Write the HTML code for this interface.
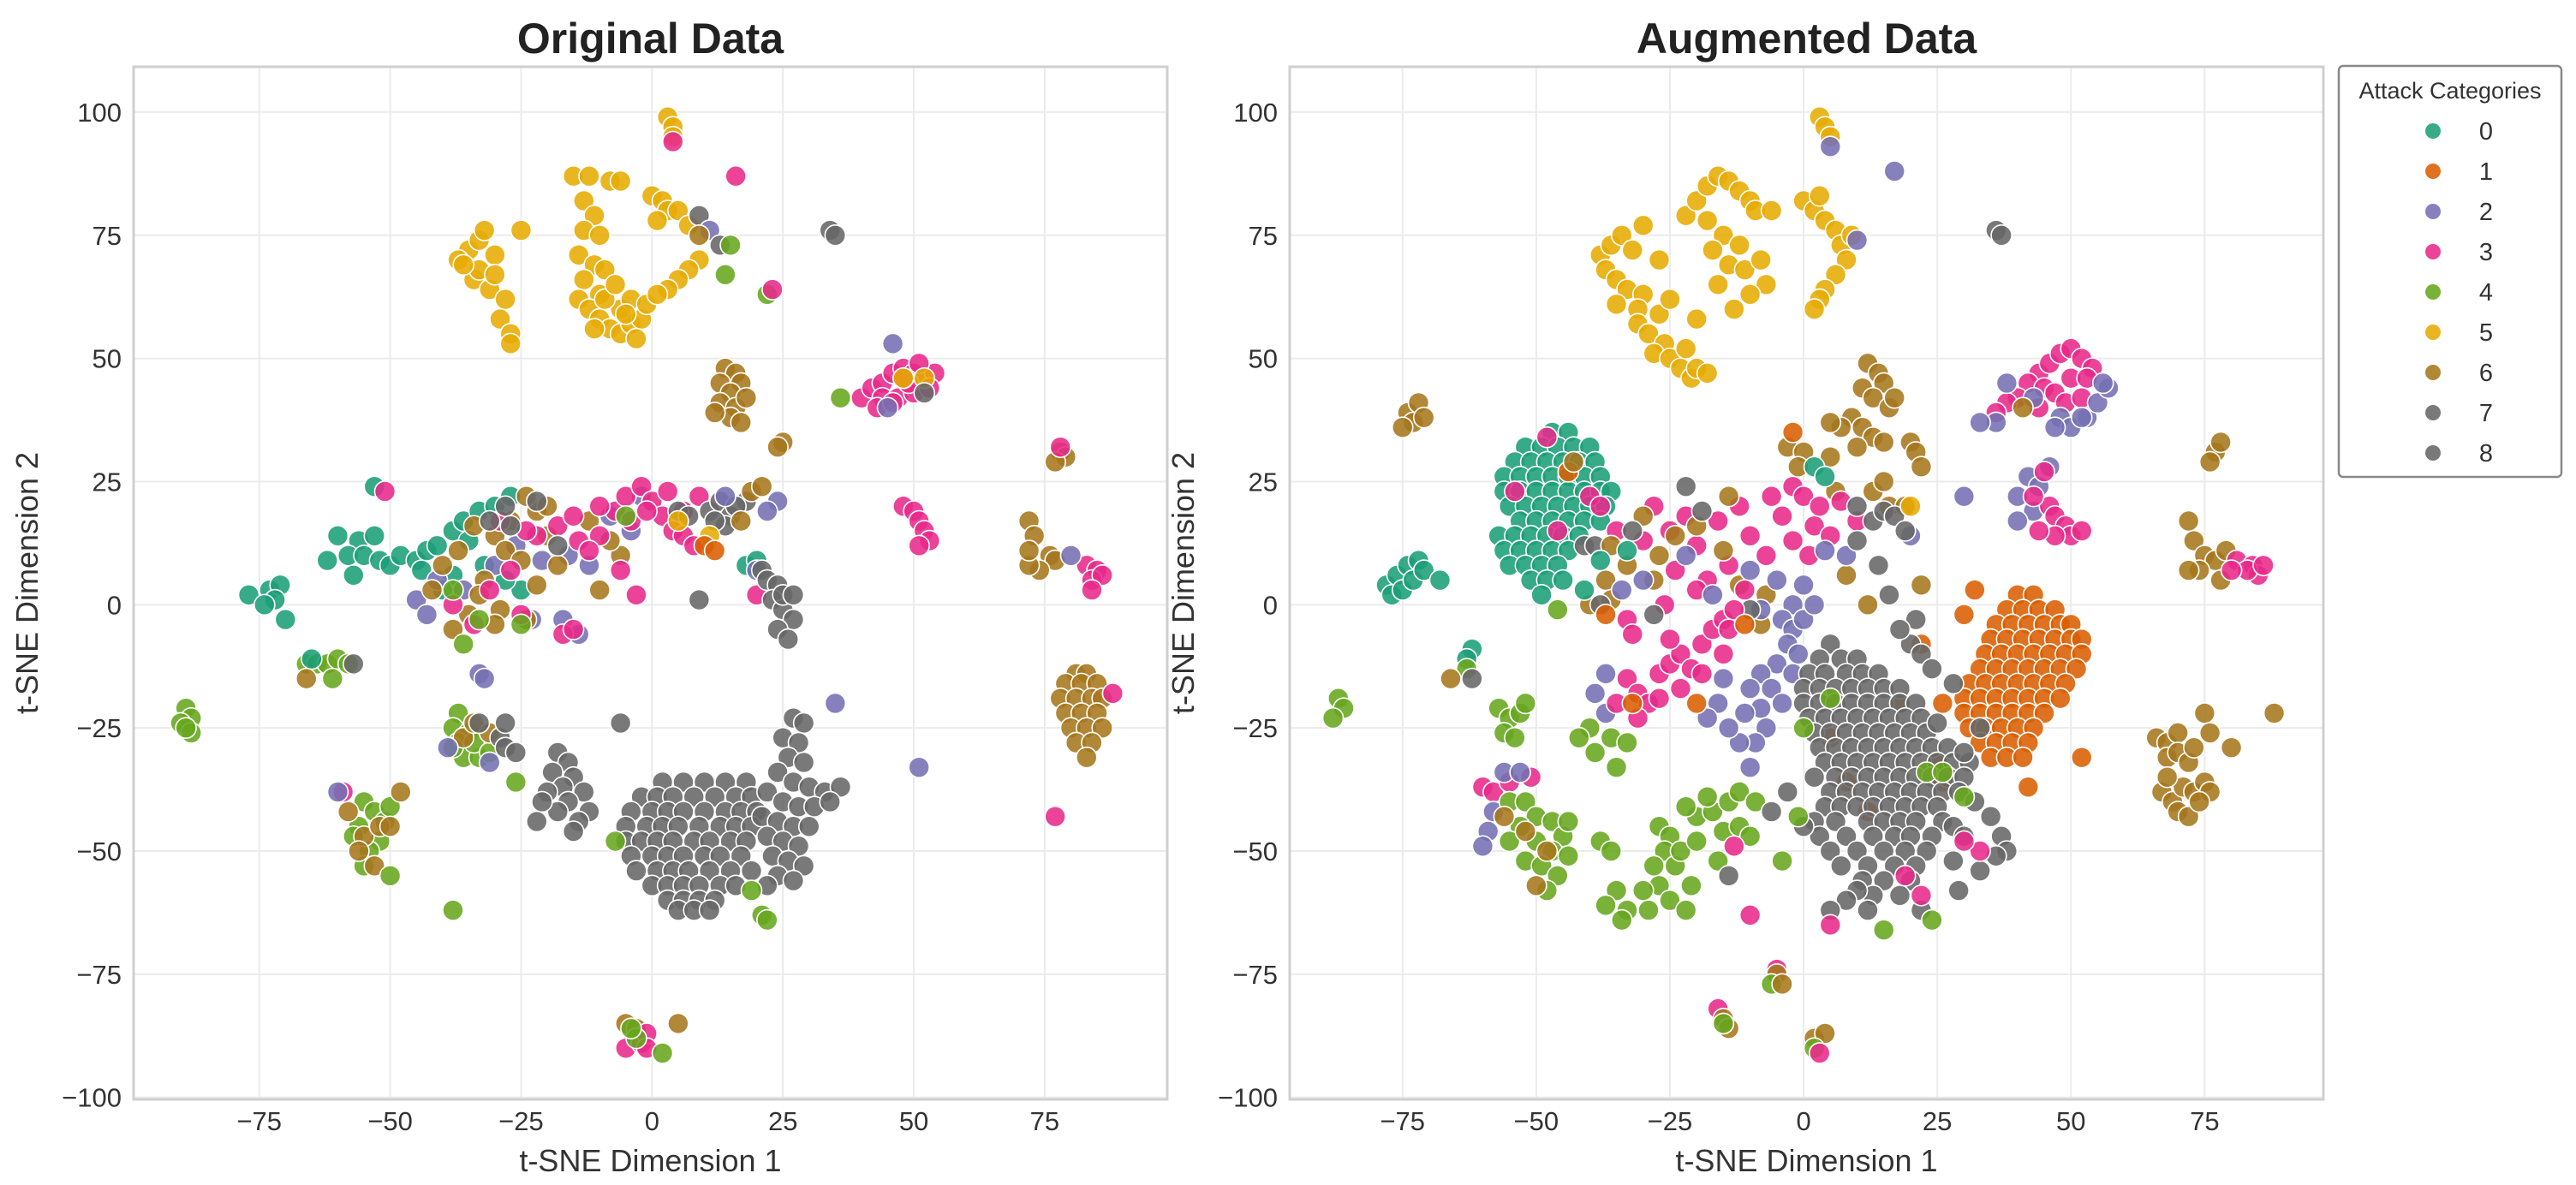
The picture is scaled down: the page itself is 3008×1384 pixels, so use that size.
<!DOCTYPE html>
<html><head><meta charset="utf-8"><title>t-SNE Original vs Augmented</title>
<style>
html,body{margin:0;padding:0;background:#fff;}
svg{display:block;font-family:"Liberation Sans",Arial,sans-serif;}
</style></head>
<body>
<svg id="fig" xmlns="http://www.w3.org/2000/svg" width="3008" height="1384" viewBox="0 0 3008 1384">
<rect x="0" y="0" width="3008" height="1384" fill="#fff"/>
</svg>
<script>
const categories = ['0','1','2','3','4','5','6','7','8'];
const palette = ['#1b9e77','#d95f02','#7570b3','#e7298a','#66a61e','#e6ab02','#a6761d','#666666','#666666'];
const xTicks = [-75,-50,-25,0,25,50,75];
const yTicks = [-100,-75,-50,-25,0,25,50,75,100];

const leftPoints = [
[-35,72,5],[-37,70,5],[-33,74,5],[-30,71,5],[-34,66,5],[-31,64,5],[-28,62,5],[-29,58,5],[-27,55,5],[-27,53,5],[-33,68,5],[-36,69,5],[-32,76,5],[-25,76,5],[-30,67,5],
[-15,87,5],[-12,87,5],[-8,86,5],[-6,86,5],[-13,82,5],[-11,79,5],[-13,76,5],[-10,75,5],[-14,71,5],[-11,69,5],[-13,66,5],[-9,68,5],[-10,63,5],
[-14,62,5],[-12,60,5],[-10,58,5],[-8,56,5],[-6,55,5],[-4,57,5],[-2,58,5],[-6,60,5],[-9,62,5],[-4,62,5],[-7,65,5],[-3,54,5],[-11,56,5],[-1,61,5],[-5,59,5],
[0,83,5],[2,82,5],[3,80,5],[1,78,5],[5,80,5],[7,77,5],[9,70,5],[7,68,5],[5,66,5],[3,64,5],[1,63,5],[3,99,5],[4,97,5],[4,95,5],[4,94,3],
[16,87,3],[9,79,7],[11,76,2],[9,75,6],[13,73,7],[15,73,4],[14,67,4],[22,63,4],[23,64,3],[34,76,7],[35,75,7],
[14,48,6],[16,47,6],[17,45,6],[13,45,6],[15,43,6],[13,41,6],[16,40,6],[18,42,6],[15,38,6],[17,37,6],[12,39,6],
[40,42,3],[42,44,3],[44,45,3],[46,47,3],[48,48,3],[50,47,3],[52,46,3],[54,47,3],[44,42,3],[47,42,3],[50,43,3],[49,45,3],[53,44,3],[43,40,3],[46,41,3],[51,49,3],[48,46,3],
[46,53,2],[48,46,5],[52,46,5],[36,42,4],[52,43,7],[45,40,2],
[25,33,6],[24,32,6],[78,31,6],[79,30,6],[77,29,6],[78,32,3],
[48,20,3],[50,19,3],[51,17,3],[52,15,3],[53,13,3],[51,12,3],
[72,17,6],[73,14,6],[76,10,6],[77,9,6],[74,7,6],[72,8,6],[72,11,6],
[83,8,3],[85,7,3],[84,5,3],[86,6,3],[84,3,3],[80,10,2],
[81,-14,6],[83,-14,6],[79,-16,6],[82,-16,6],[85,-16,6],[78,-19,6],[81,-19,6],[84,-19,6],[86,-19,6],[79,-22,6],[82,-22,6],[85,-22,6],[80,-25,6],[83,-25,6],[86,-25,6],[81,-28,6],[84,-28,6],[83,-31,6],[88,-18,3],
[77,-43,3],[51,-33,2],
[-60,14,0],[-56,13,0],[-53,14,0],[-58,10,0],[-55,10,0],[-52,9,0],[-57,6,0],[-62,9,0],[-50,8,0],[-48,10,0],
[-77,2,0],[-73,3,0],[-71,4,0],[-72,1,0],[-74,0,0],[-70,-3,0],
[-66,-12,4],[-64,-12,4],[-62,-12,4],[-60,-11,4],[-58,-12,4],[-65,-11,0],[-66,-15,6],[-61,-15,4],[-57,-12,7],
[-89,-21,4],[-88,-23,4],[-90,-24,4],[-88,-26,4],[-89,-25,4],
[-53,24,0],[-51,23,3],
[-45,9,0],[-43,11,0],[-41,12,0],[-38,15,0],[-36,17,0],[-33,19,0],[-35,13,0],[-30,20,0],[-27,22,0],[-44,7,0],[-38,6,0],[-32,8,0],[-40,3,0],[-25,3,0],[-28,5,0],
[-45,1,2],[-43,-2,2],[-41,5,2],[-36,3,2],[-30,8,2],[-26,12,2],[-21,9,2],[-16,10,2],[-12,8,2],[-8,18,2],[-4,15,2],[-2,22,2],[-23,-3,2],[-17,-3,2],[-14,-6,2],[-33,-14,2],[-32,-15,2],
[-42,3,6],[-40,8,6],[-37,11,6],[-34,16,6],[-30,14,6],[-28,11,6],[-25,9,6],[-32,5,6],[-35,-2,6],[-38,-5,6],[-29,-1,6],[-33,2,6],[-27,17,6],[-22,19,6],[-24,22,6],[-20,14,6],[-18,8,6],[-22,4,6],[-30,-4,6],[-24,-3,6],[-12,17,6],[-6,10,6],[-20,20,6],[-10,3,6],[-8,13,6],
[-38,0,3],[-34,-4,3],[-31,3,3],[-27,7,3],[-22,14,3],[-18,16,3],[-14,13,3],[-10,14,3],[-7,19,3],[-5,22,3],[-2,24,3],[0,21,3],[2,18,3],[4,15,3],[6,14,3],[8,12,3],[-4,17,3],[-10,20,3],[-15,18,3],[-12,11,3],[-1,19,3],[3,23,3],[-6,7,3],[-17,-6,3],[-15,-5,3],[-29,17,3],[-24,15,3],[-3,2,3],[6,19,3],[9,22,3],[-25,-2,3],
[-28,20,7],[-22,21,7],[-31,17,7],[-27,16,7],[5,19,7],[7,18,7],[11,19,7],[13,21,7],[15,18,7],[14,16,7],[12,17,7],[18,21,7],[16,20,7],[-18,12,7],
[-36,-8,4],[-38,3,4],[-25,-4,4],[-33,-3,4],[-5,18,4],
[11,14,5],[5,17,5],[10,12,1],[12,11,1],[19,23,6],[21,24,6],[17,17,6],[24,21,2],[22,19,2],[14,22,2],
[18,8,0],[20,9,0],[20,7,2],[20,2,3],
[21,7,7],[22,5,7],[24,4,7],[23,1,7],[25,-1,7],[27,-3,7],[24,-5,7],[26,-7,7],[25,2,7],[27,2,7],[9,1,7],
[-18,-30,7],[-16,-32,7],[-19,-34,7],[-15,-35,7],[-17,-37,7],[-13,-38,7],[-20,-38,7],[-16,-40,7],[-12,-42,7],[-18,-42,7],[-14,-44,7],[-21,-40,7],[-22,-44,7],[-15,-46,7],[-6,-24,7],
[-37,-22,4],[-38,-25,4],[-35,-26,4],[-37,-28,4],[-36,-31,4],[-33,-31,4],[-34,-28,4],[-31,-30,4],[-38,-29,4],[-36,-27,6],[-34,-24,6],[-31,-26,6],[-33,-24,7],[-29,-27,7],[-28,-29,7],[-26,-30,7],[-28,-24,7],[-39,-29,2],[-31,-32,2],[-26,-36,4],
[-55,-40,4],[-53,-42,4],[-51,-44,4],[-56,-45,4],[-52,-48,4],[-54,-50,4],[-57,-47,4],[-50,-41,4],[-55,-53,4],[-58,-42,6],[-55,-47,6],[-52,-45,6],[-50,-45,6],[-56,-50,6],[-53,-53,6],[-48,-38,6],[-59,-38,3],[-60,-38,2],[-50,-55,4],[-38,-62,4],
[-5,-85,6],[-3,-86,6],[5,-85,6],[-5,-90,3],[-2,-89,3],[-1,-87,3],[-1,-90,3],[-3,-88,4],[2,-91,4],[-4,-86,4],
[2,-36,7],[6,-36,7],[10,-36,7],[14,-36,7],[18,-36,7],
[-2,-39,7],[1,-39,7],[4,-39,7],[8,-39,7],[12,-39,7],[16,-39,7],[19,-39,7],
[-4,-42,7],[0,-42,7],[3,-42,7],[6,-42,7],[10,-42,7],[14,-42,7],[17,-42,7],[20,-42,7],
[-5,-45,7],[-1,-45,7],[2,-45,7],[5,-45,7],[9,-45,7],[13,-45,7],[16,-45,7],[19,-45,7],
[-5,-48,7],[-2,-48,7],[1,-48,7],[4,-48,7],[8,-48,7],[11,-48,7],[15,-48,7],[18,-48,7],
[-4,-51,7],[0,-51,7],[3,-51,7],[6,-51,7],[10,-51,7],[13,-51,7],[17,-51,7],
[-3,-54,7],[1,-54,7],[4,-54,7],[7,-54,7],[11,-54,7],[15,-54,7],[19,-54,7],
[0,-57,7],[3,-57,7],[6,-57,7],[9,-57,7],[13,-57,7],[16,-57,7],
[3,-60,7],[6,-60,7],[9,-60,7],[12,-60,7],[5,-62,7],[8,-62,7],[11,-62,7],
[27,-23,7],[29,-24,7],[25,-27,7],[28,-28,7],[26,-31,7],[29,-32,7],[24,-34,7],[27,-36,7],[30,-37,7],[33,-38,7],[36,-37,7],[22,-38,7],[25,-40,7],[28,-41,7],[31,-41,7],[34,-40,7],[21,-43,7],[24,-44,7],[27,-45,7],[30,-45,7],[22,-47,7],[25,-48,7],[28,-49,7],[23,-51,7],[26,-52,7],[29,-53,7],[24,-55,7],[27,-56,7],[22,-57,7],
[-7,-48,4],[21,-63,4],[22,-64,4],[19,-58,4],[35,-20,2]
];

const rightPoints = [
[-38,71,5],[-36,73,5],[-34,75,5],[-32,72,5],[-37,68,5],[-35,66,5],[-33,64,5],[-30,63,5],[-31,60,5],[-31,57,5],[-29,55,5],[-26,53,5],[-28,51,5],[-25,50,5],[-23,48,5],[-21,46,5],[-20,48,5],[-18,47,5],[-22,52,5],[-27,59,5],[-25,62,5],[-20,58,5],[-35,61,5],[-27,70,5],[-30,77,5],
[-22,79,5],[-20,82,5],[-18,85,5],[-16,87,5],[-14,86,5],[-12,84,5],[-10,82,5],[-18,78,5],[-15,75,5],[-12,73,5],[-14,69,5],[-11,68,5],[-8,70,5],[-7,65,5],[-10,63,5],[-13,60,5],[-16,65,5],[-17,72,5],[-9,80,5],[-6,80,5],
[0,82,5],[2,80,5],[4,78,5],[6,76,5],[7,73,5],[8,70,5],[6,67,5],[4,64,5],[3,62,5],[2,60,5],[9,75,5],[3,83,5],
[3,99,5],[4,97,5],[5,95,5],[5,93,2],[17,88,2],[10,74,2],[36,76,7],[37,75,7],
[12,49,6],[14,47,6],[15,45,6],[11,44,6],[13,42,6],[16,40,6],[9,38,6],[7,36,6],[5,37,6],[11,36,6],[13,34,6],[15,33,6],[10,32,6],[17,42,6],[20,33,6],[21,31,6],[22,28,6],[5,30,6],[-3,32,6],[6,23,6],[-2,35,1],
[44,47,3],[46,49,3],[48,51,3],[50,52,3],[52,50,3],[54,48,3],[42,45,3],[45,44,3],[50,46,3],[53,46,3],[40,42,3],[38,41,3],[47,43,3],[49,41,3],[52,42,3],[44,40,3],[36,39,3],
[36,37,2],[38,45,2],[48,38,2],[50,36,2],[53,38,2],[55,41,2],[57,44,2],[52,38,2],[43,42,2],[47,36,2],[33,37,2],[56,45,2],[41,40,6],
[42,26,2],[44,24,2],[40,22,2],[43,19,2],[40,17,2],[46,28,2],[45,27,3],[46,20,3],[47,18,3],[49,16,3],[50,14,3],[52,15,3],[47,14,3],[44,15,3],[43,22,3],
[77,31,6],[78,33,6],[76,29,6],[72,17,6],[73,13,6],[75,10,6],[77,9,6],[79,11,6],[74,7,6],[72,7,6],[78,5,6],
[81,9,3],[84,8,3],[85,6,3],[83,7,3],[80,7,3],[86,8,3],
[66,-27,6],[68,-28,6],[70,-26,6],[68,-31,6],[70,-30,6],[72,-32,6],[75,-22,6],[76,-26,6],[73,-29,6],[80,-29,6],[88,-22,6],[67,-38,6],[69,-40,6],[71,-37,6],[73,-38,6],[75,-36,6],[70,-42,6],[72,-43,6],[68,-35,6],[76,-38,6],[74,-40,6],
[-74,39,6],[-72,41,6],[-73,37,6],[-71,38,6],[-75,36,6],
[-47,35,0],[-44,35,0],
[-52,32,0],[-49,32,0],[-46,32,0],[-43,32,0],[-40,32,0],
[-54,29,0],[-51,29,0],[-48,29,0],[-45,29,0],[-42,29,0],[-39,29,0],
[-56,26,0],[-53,26,0],[-50,26,0],[-47,26,0],[-44,26,0],[-41,26,0],[-38,26,0],
[-56,23,0],[-53,23,0],[-50,23,0],[-47,23,0],[-44,23,0],[-41,23,0],[-38,23,0],[-36,23,0],
[-55,20,0],[-52,20,0],[-49,20,0],[-46,20,0],[-43,20,0],[-40,20,0],[-37,20,0],
[-53,17,0],[-50,17,0],[-47,17,0],[-44,17,0],[-41,17,0],[-38,17,0],
[-57,14,0],[-54,14,0],[-51,14,0],[-48,14,0],[-45,14,0],[-42,14,0],
[-56,11,0],[-53,11,0],[-50,11,0],[-47,11,0],[-44,11,0],
[-55,8,0],[-52,8,0],[-49,8,0],[-46,8,0],[-51,5,0],[-48,5,0],[-45,5,0],[-49,2,0],
[-48,34,3],[-54,23,3],[-40,22,3],[-46,15,3],[-44,27,1],[-43,29,6],[-41,12,7],[-39,12,7],
[-78,4,0],[-76,6,0],[-74,8,0],[-72,9,0],[-77,2,0],[-75,3,0],[-73,5,0],[-71,7,0],[-68,5,0],
[-62,-9,0],[-63,-11,0],[-63,-13,4],[-62,-15,7],[-66,-15,6],
[-87,-19,4],[-86,-21,4],[-88,-23,4],
[-57,-21,4],[-55,-23,4],[-53,-22,4],[-56,-26,4],[-54,-27,4],[-52,-20,4],
[-60,-37,3],[-58,-38,3],[-55,-36,3],[-51,-35,3],[-56,-34,2],[-53,-34,2],[-58,-42,2],[-59,-46,2],[-60,-49,2],
[-55,-40,4],[-52,-40,4],[-50,-43,4],[-47,-44,4],[-45,-47,4],[-53,-45,4],[-50,-48,4],[-47,-50,4],[-44,-51,4],[-55,-48,4],[-52,-52,4],[-49,-53,4],[-46,-55,4],[-48,-58,4],[-44,-44,4],
[-56,-43,6],[-52,-46,6],[-48,-50,6],[-50,-57,6],
[-38,-48,4],[-36,-50,4],[-35,-58,4],[-37,-61,4],[-33,-62,4],[-34,-64,4],[-27,-45,4],[-25,-47,4],[-26,-50,4],[-28,-53,4],[-24,-53,4],[-27,-57,4],[-30,-58,4],[-25,-60,4],[-22,-62,4],[-29,-62,4],[-21,-57,4],[-23,-50,4],[-20,-43,4],[-17,-42,4],[-14,-40,4],[-18,-39,4],[-22,-41,4],[-15,-46,4],[-12,-45,4],[-20,-48,4],[-16,-52,4],[-10,-47,4],[-12,-38,4],[-9,-40,4],
[-40,-25,4],[-36,-27,4],[-33,-28,4],[-39,-30,4],[-35,-33,4],[-42,-27,4],
[-38,20,3],[-35,15,3],[-30,13,3],[-28,20,3],[-25,15,3],[-22,18,3],[-20,12,3],[-16,17,3],[-12,20,3],[-10,14,3],[-6,22,3],[-4,18,3],[-2,24,3],[0,22,3],[2,16,3],[3,20,3],[-7,10,3],[-14,8,3],[-18,5,3],[-24,7,3],[-2,13,3],[5,14,3],[1,10,3],[7,21,3],[10,17,3],[-26,0,3],[-33,-3,3],[-32,-6,3],[-20,3,3],
[-36,12,6],[-33,8,6],[-37,5,6],[-40,0,6],[-30,18,6],[-27,10,6],[-24,14,6],[-20,16,6],[-15,11,6],[-12,4,6],[-7,2,6],[0,31,6],[-1,28,6],[-14,22,6],[-36,1,6],[-28,5,6],[-8,-4,6],[13,23,6],[15,25,6],[16,20,6],[19,20,6],[12,0,6],[22,4,6],[8,6,6],
[-34,3,2],[-30,5,2],[-22,10,2],[-17,2,2],[-10,7,2],[-5,5,2],[4,11,2],[8,10,2],[-2,0,2],[-8,-1,2],[30,22,2],[20,14,2],[-37,-14,2],[-39,-18,2],[-37,-22,2],
[-28,-2,7],[-32,15,7],[-19,19,7],[-10,-1,7],[13,17,7],[15,19,7],[17,18,7],[19,15,7],[10,20,7],[-22,24,7],[-38,0,7],
[-33,11,0],[-38,9,0],[-41,3,0],[2,28,0],[4,26,0],[-46,-1,4],[20,20,5],
[-33,-15,3],[-31,-18,3],[-29,-20,3],[-27,-14,3],[-25,-12,3],[-23,-10,3],[-21,-13,3],[-19,-8,3],[-17,-5,3],[-15,-3,3],[-13,-1,3],[-11,3,3],[-15,-10,3],[-19,-14,3],[-23,-17,3],[-27,-19,3],[-14,-5,3],[-25,-7,3],[-31,-23,3],[-35,-20,3],
[-4,-3,2],[-2,-5,2],[0,-3,2],[-3,-8,2],[-1,-10,2],[-5,-12,2],[-2,-14,2],[-8,-14,2],[-6,-17,2],[-10,-17,2],[-8,-21,2],[-11,-22,2],[-7,-25,2],[-9,-28,2],[-12,-28,2],[-14,-25,2],[-4,-20,2],[2,0,2],[0,4,2],[-10,-33,2],[-16,-20,2],[-15,-15,2],[-18,-23,2],
[40,2,1],[43,2,1],
[38,-1,1],[41,-1,1],[44,-1,1],[47,-1,1],
[36,-4,1],[39,-4,1],[42,-4,1],[45,-4,1],[48,-4,1],[50,-4,1],
[35,-7,1],[38,-7,1],[41,-7,1],[44,-7,1],[47,-7,1],[50,-7,1],[52,-7,1],
[34,-10,1],[37,-10,1],[40,-10,1],[43,-10,1],[46,-10,1],[49,-10,1],[52,-10,1],
[33,-13,1],[36,-13,1],[39,-13,1],[42,-13,1],[45,-13,1],[48,-13,1],[51,-13,1],
[31,-16,1],[34,-16,1],[37,-16,1],[40,-16,1],[43,-16,1],[46,-16,1],[49,-16,1],
[30,-19,1],[33,-19,1],[36,-19,1],[39,-19,1],[42,-19,1],[45,-19,1],[48,-19,1],
[30,-22,1],[33,-22,1],[36,-22,1],[39,-22,1],[42,-22,1],[45,-22,1],
[31,-25,1],[34,-25,1],[37,-25,1],[40,-25,1],[43,-25,1],
[33,-28,1],[36,-28,1],[39,-28,1],[42,-28,1],[35,-31,1],[38,-31,1],[41,-31,1],
[25,-32,1],[52,-31,1],[30,-2,1],[32,3,1],[42,-37,1],[26,-36,1],[22,-8,1],[18,-20,1],[8,-36,1],[5,-27,1],[26,-20,1],[-37,-2,1],[-32,-20,1],[-20,-20,1],[-11,-4,1],[12,-42,1],
[5,-8,7],[3,-11,7],[7,-11,7],[10,-11,7],
[1,-14,7],[4,-14,7],[8,-14,7],[11,-14,7],[14,-14,7],
[0,-17,7],[3,-17,7],[6,-17,7],[9,-17,7],[12,-17,7],[15,-17,7],[18,-17,7],
[0,-20,7],[3,-20,7],[6,-20,7],[9,-20,7],[12,-20,7],[15,-20,7],[18,-20,7],[21,-20,7],
[1,-23,7],[4,-23,7],[7,-23,7],[10,-23,7],[13,-23,7],[16,-23,7],[19,-23,7],[22,-23,7],
[2,-26,7],[5,-26,7],[8,-26,7],[11,-26,7],[14,-26,7],[17,-26,7],[20,-26,7],[23,-26,7],
[3,-29,7],[6,-29,7],[9,-29,7],[12,-29,7],[15,-29,7],[18,-29,7],[21,-29,7],[24,-29,7],[27,-29,7],
[4,-32,7],[7,-32,7],[10,-32,7],[13,-32,7],[16,-32,7],[19,-32,7],[22,-32,7],[25,-32,7],[28,-32,7],[31,-32,7],
[2,-35,7],[6,-35,7],[9,-35,7],[12,-35,7],[15,-35,7],[18,-35,7],[21,-35,7],[24,-35,7],[27,-35,7],[30,-35,7],
[5,-38,7],[8,-38,7],[11,-38,7],[14,-38,7],[17,-38,7],[20,-38,7],[23,-38,7],[26,-38,7],[29,-38,7],
[4,-41,7],[7,-41,7],[10,-41,7],[13,-41,7],[16,-41,7],[19,-41,7],[22,-41,7],[25,-41,7],
[2,-44,7],[6,-44,7],[12,-44,7],[15,-44,7],[18,-44,7],[21,-44,7],[26,-44,7],
[3,-47,7],[8,-47,7],[13,-47,7],[17,-47,7],[20,-47,7],[24,-47,7],
[5,-50,7],[10,-50,7],[15,-50,7],[19,-50,7],[23,-50,7],
[7,-53,7],[12,-53,7],[17,-53,7],[21,-53,7],[11,-56,7],[15,-56,7],[20,-56,7],[13,-59,7],[18,-59,7],
[20,-8,7],[22,-10,7],[24,-13,7],[21,-3,7],[18,-5,7],[16,2,7],[14,8,7],[10,13,7],[28,-45,7],[30,-47,7],[28,-52,7],[32,-40,7],[35,-43,7],[37,-47,7],[38,-50,7],[12,-62,7],[10,-58,7],
[30,-30,7],[33,-25,7],[28,-16,7],[25,-24,7],[33,-54,7],[36,-51,7],[29,-58,7],[22,-62,7],[8,-60,7],[5,-62,7],[-14,-55,7],[0,-45,7],[-3,-38,7],[-6,-42,7],
[0,-25,4],[5,-19,4],[-1,-43,4],[-4,-52,4],[15,-66,4],[23,-34,4],[26,-34,4],[24,-64,4],[30,-39,4],
[-13,-49,3],[5,-65,3],[-10,-63,3],[19,-55,3],[22,-59,3],[33,-50,3],[30,-48,3],
[-5,-74,3],[-5,-75,6],[-6,-77,4],[-4,-77,6],[-16,-82,3],[-15,-84,6],[-14,-86,6],[-15,-85,4],[2,-88,6],[4,-87,6],[2,-90,4],[3,-91,3]
];

const NS = 'http://www.w3.org/2000/svg';
const svg = document.getElementById('fig');
function mk(tag, attrs, parent) {
  const e = document.createElementNS(NS, tag);
  for (const k in attrs) e.setAttribute(k, attrs[k]);
  (parent || svg).appendChild(e);
  return e;
}

function drawPanel(cfg) {
  const g = mk('g', {});
  
  
  const xs = v => cfg.l + (v - cfg.xmin) / (cfg.xmax - cfg.xmin) * cfg.w;
  const ys = v => cfg.t + (cfg.ymax - v) / (cfg.ymax - cfg.ymin) * cfg.h;
  const grid = mk('g', {}, g);
  
  
  xTicks.forEach(v => {
    const x = xs(v);
    const ln = mk('line', {x1:x, x2:x, y1:cfg.t, y2:cfg.t+cfg.h, stroke:'#ebebeb', 'stroke-width':2}, grid);
    
    
    const tx = mk('text', {x:x, y:cfg.t+cfg.h+36, 'text-anchor':'middle', 'font-size':31, fill:'#333'}, g);
    
    
    tx.textContent = v < 0 ? '\u2212' + Math.abs(v) : String(v);
  });
  yTicks.forEach(v => {
    const y = ys(v);
    const ln = mk('line', {x1:cfg.l, x2:cfg.l+cfg.w, y1:y, y2:y, stroke:'#ebebeb', 'stroke-width':2}, grid);
    
    
    const ty = mk('text', {x:cfg.l-14, y:y+11, 'text-anchor':'end', 'font-size':31, fill:'#333'}, g);
    
    
    ty.textContent = v < 0 ? '\u2212' + Math.abs(v) : String(v);
  });
  const pts = mk('g', {}, g);
  
  
  cfg.data.forEach(p => {
    const c = mk('circle', {cx:xs(p[0]), cy:ys(p[1]), r:12, fill:palette[p[2]], 'fill-opacity':0.88, stroke:'#fff', 'stroke-width':1.6}, pts);
    
    
  });
  const fr = mk('rect', {x:cfg.l, y:cfg.t, width:cfg.w, height:cfg.h, fill:'none', stroke:'#cfcfcf', 'stroke-width':3}, g);
  
  
  const tt = mk('text', {x:cfg.l+cfg.w/2, y:62, 'text-anchor':'middle', 'font-size':50, 'font-weight':'bold', fill:'#222'}, g);
  
  
  tt.textContent = cfg.title;
  const xl = mk('text', {x:cfg.l+cfg.w/2, y:1368, 'text-anchor':'middle', 'font-size':36, fill:'#333'}, g);
  
  
  xl.textContent = 't-SNE Dimension 1';
  const cy = cfg.t + cfg.h/2, cx = cfg.l - 112;
  const yl = mk('text', {x:cx, y:cy, 'text-anchor':'middle', 'font-size':36, fill:'#333', transform:'rotate(-90 '+cx+' '+cy+')'}, g);
  
  
  yl.textContent = 't-SNE Dimension 2';
}

drawPanel({name:'original-data-panel', title:'Original Data', l:156, t:78, w:1207, h:1206, xmin:-99.0, xmax:98.4, ymin:-100.4, ymax:109.2, data:leftPoints});
drawPanel({name:'augmented-data-panel', title:'Augmented Data', l:1506, t:78, w:1207, h:1206, xmin:-96.1, xmax:97.2, ymin:-100.4, ymax:109.2, data:rightPoints});

const lg = mk('g', {});


const lb = mk('rect', {x:2731, y:77, width:260, height:480, rx:5, fill:'#fff', stroke:'#888', 'stroke-width':2.5}, lg);


const lt = mk('text', {x:2861, y:115, 'text-anchor':'middle', 'font-size':27, fill:'#333'}, lg);


lt.textContent = 'Attack Categories';
categories.forEach((c, i) => {
  const y = 153 + i * 47;
  const e = mk('g', {}, lg);
  
  
  const m = mk('circle', {cx:2841, cy:y, r:9, fill:palette[i], 'fill-opacity':0.88}, e);
  
  
  const t = mk('text', {x:2903, y:y+10, 'text-anchor':'middle', 'font-size':29, fill:'#333'}, e);
  
  
  t.textContent = c;
});
</script>
</body></html>
